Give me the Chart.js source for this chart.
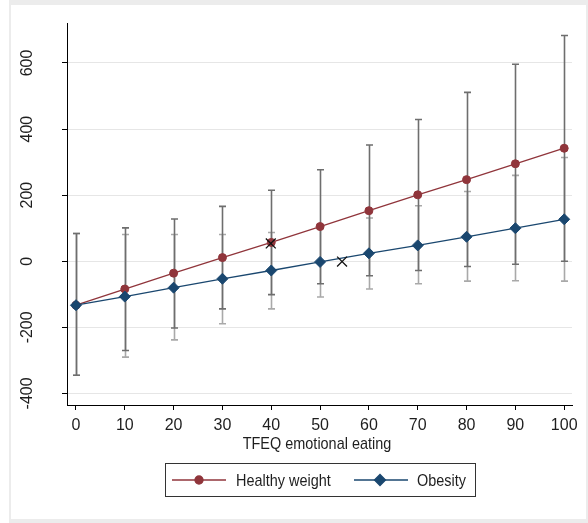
<!DOCTYPE html>
<html>
<head>
<meta charset="utf-8">
<script src="https://cdn.jsdelivr.net/npm/chart.js@4.4.1/dist/chart.umd.min.js"></script>
<style>
  html, body { margin: 0; padding: 0; background: #fff; }
  canvas { display: block; }
</style>
</head>
<body>
<canvas id="chart" width="588" height="523"></canvas>
<script>
// TFEQ emotional eating values (x)
const emoEating = [0, 10, 20, 30, 40, 50, 60, 70, 80, 90, 100];

// Healthy weight: predicted margins and 95% CI
const healthyMargin = [-133, -84, -36, 11, 57, 105, 153, 201, 247, 295, 342];
const healthyLower  = [-345, -270, -202, -144, -101, -68, -44, -28, -16, -9, 0];
const healthyUpper  = [84, 101, 128, 166, 215, 277, 352, 429, 511, 596, 683];

// Obesity: predicted margins and 95% CI
const obesityMargin = [-133, -107, -80, -53, -28, -2, 24, 48, 74, 100, 127];
const obesityLower  = [-345, -290, -238, -189, -144, -108, -84, -68, -60, -59, -60];
const obesityUpper  = [84, 81, 81, 81, 87, 103, 131, 168, 211, 260, 314];

// the two "X" marks in the plot
const markX = [39.9, 54.5];
const markY = [54, -1];

const xTicks = [0, 10, 20, 30, 40, 50, 60, 70, 80, 90, 100];
const yTicks = [-400, -200, 0, 200, 400, 600];

const RED = '#90353b';
const BLUE = '#1a476f';
const FONT = '"Liberation Sans", Arial, sans-serif';
const TEXT = '#1e1e1e';

const toPoints = (xs, ys) => xs.map((x, i) => ({ x: x, y: ys[i] }));

// narrow text: the original uses a condensed face
function narrowText(ctx, str, x, y, align, sx) {
  ctx.save();
  ctx.translate(x, y);
  ctx.scale(sx, 1);
  ctx.textAlign = align;
  ctx.fillText(str, 0, 0);
  ctx.restore();
}

// background frame
const framePlugin = {
  id: 'frame',
  beforeDraw(chart) {
    const ctx = chart.ctx;
    ctx.save();
    ctx.fillStyle = '#ffffff';
    ctx.fillRect(0, 0, chart.width, chart.height);
    ctx.fillStyle = '#ececec';
    ctx.fillRect(9, 0, chart.width - 9, chart.height);
    ctx.fillStyle = '#ffffff';
    ctx.fillRect(11, 5, 575, 514);
    ctx.restore();
  }
};

// confidence interval bars
const ciPlugin = {
  id: 'ciBars',
  beforeDatasetsDraw(chart) {
    const ctx = chart.ctx;
    const xs = chart.scales.x, ys = chart.scales.y;
    const sets = [
      { lo: obesityLower, hi: obesityUpper, color: '#a9a9a9' },
      { lo: healthyLower, hi: healthyUpper, color: '#6e6e6e' }
    ];
    ctx.save();
    ctx.lineWidth = 1.6;
    sets.forEach(s => {
      ctx.strokeStyle = s.color;
      emoEating.forEach((v, i) => {
        const px = Math.round(xs.getPixelForValue(v)) + 0.5;
        const top = ys.getPixelForValue(s.hi[i]);
        const bot = ys.getPixelForValue(s.lo[i]);
        ctx.beginPath();
        ctx.moveTo(px, top);
        ctx.lineTo(px, bot);
        ctx.moveTo(px - 3.5, top);
        ctx.lineTo(px + 3.5, top);
        ctx.moveTo(px - 3.5, bot);
        ctx.lineTo(px + 3.5, bot);
        ctx.stroke();
      });
    });
    ctx.restore();
  }
};

// rotated y tick labels, axis title, boxed legend
const labelsPlugin = {
  id: 'labels',
  afterDraw(chart) {
    const ctx = chart.ctx;
    const ys = chart.scales.y;
    ctx.save();
    ctx.fillStyle = TEXT;
    ctx.font = '16px ' + FONT;
    ctx.textAlign = 'center';
    ctx.textBaseline = 'middle';
    yTicks.forEach(v => {
      ctx.save();
      ctx.translate(28, ys.getPixelForValue(v));
      ctx.rotate(-Math.PI / 2);
      ctx.fillText(String(v), 0, 0);
      ctx.restore();
    });

    // x axis title
    ctx.font = '17px ' + FONT;
    narrowText(ctx, 'TFEQ emotional eating', 317, 444, 'center', 0.85);

    // legend
    ctx.strokeStyle = '#333';
    ctx.lineWidth = 1;
    ctx.strokeRect(165.5, 463.5, 310, 33);
    const ly = 480;
    const items = [
      { x0: 172, x1: 226, mx: 199, tx: 236, color: RED, style: 'circle', r: 4, text: 'Healthy weight' },
      { x0: 354, x1: 408, mx: 380, tx: 417, color: BLUE, style: 'rectRot', r: 5.5, text: 'Obesity' }
    ];
    items.forEach(it => {
      ctx.strokeStyle = it.color;
      ctx.fillStyle = it.color;
      ctx.lineWidth = 1.3;
      ctx.beginPath();
      ctx.moveTo(it.x0, ly);
      ctx.lineTo(it.x1, ly);
      ctx.stroke();
      Chart.helpers.drawPoint(ctx, { pointStyle: it.style, radius: it.r, rotation: 0, borderWidth: 1 }, it.mx, ly);
      ctx.fillStyle = TEXT;
      ctx.font = '17px ' + FONT;
      narrowText(ctx, it.text, it.tx, ly + 1, 'left', 0.85);
    });
    ctx.restore();
  }
};

new Chart(document.getElementById('chart'), {
  type: 'line',
  data: {
    datasets: [
      {
        label: 'X',
        data: toPoints(markX, markY),
        showLine: false,
        pointStyle: 'crossRot',
        pointRadius: 7,
        borderColor: '#111',
        borderWidth: 1.3,
        order: -1
      },
      {
        label: 'Obesity',
        data: toPoints(emoEating, obesityMargin),
        borderColor: BLUE,
        backgroundColor: BLUE,
        borderWidth: 1.3,
        pointStyle: 'rectRot',
        pointRadius: 5.5,
        pointBorderWidth: 1,
        order: 0
      },
      {
        label: 'Healthy weight',
        data: toPoints(emoEating, healthyMargin),
        borderColor: RED,
        backgroundColor: RED,
        borderWidth: 1.3,
        pointStyle: 'circle',
        pointRadius: 4,
        pointBorderWidth: 1,
        order: 1
      }
    ]
  },
  options: {
    responsive: false,
    animation: false,
    devicePixelRatio: 1,
    layout: { padding: { left: 0, right: 16, top: 23, bottom: 70 } },
    plugins: {
      legend: { display: false },
      tooltip: { enabled: false }
    },
    scales: {
      x: {
        type: 'linear',
        min: -1.84,
        max: 101.6,
        afterBuildTicks: s => { s.ticks = xTicks.map(v => ({ value: v })); },
        afterFit: s => { s.height = 48; },
        grid: { drawOnChartArea: false, drawTicks: true, tickLength: 5, tickColor: '#000' },
        border: { color: '#000', width: 1 },
        ticks: {
          color: TEXT,
          padding: 6,
          maxRotation: 0,
          font: { family: FONT, size: 16 }
        }
      },
      y: {
        type: 'linear',
        min: -435,
        max: 721,
        afterBuildTicks: s => { s.ticks = yTicks.map(v => ({ value: v })); },
        afterFit: s => { s.width = 67; },
        grid: { color: '#e6e6e6', lineWidth: 1, drawTicks: true, tickLength: 5, tickColor: '#000' },
        border: { color: '#000', width: 1 },
        ticks: { display: false }
      }
    }
  },
  plugins: [framePlugin, ciPlugin, labelsPlugin]
});
</script>
</body>
</html>
